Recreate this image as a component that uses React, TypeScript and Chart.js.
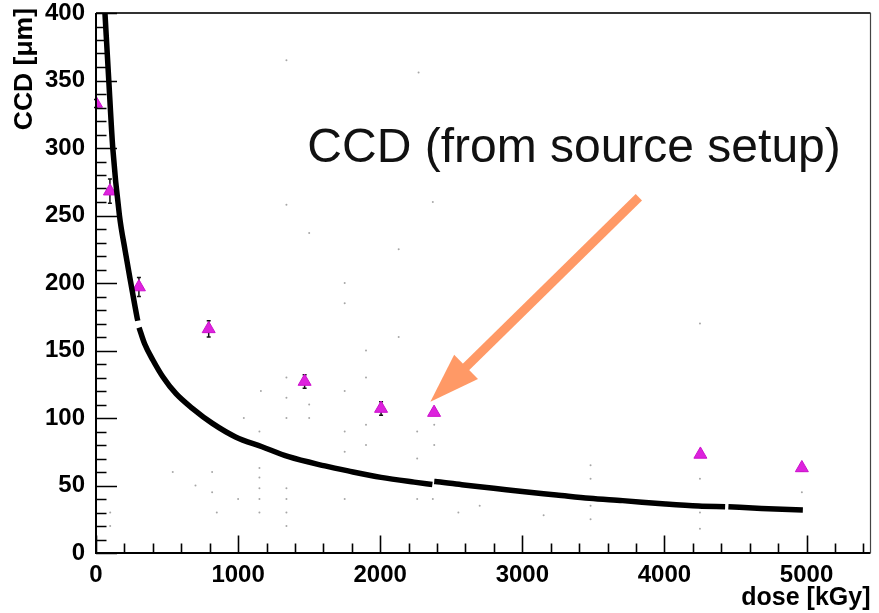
import React, { useEffect, useRef } from "react";
import { Chart, registerables } from "chart.js";

Chart.register(...registerables);

// ---- Data ----
// main black band (separate segments)
const curveDoseA = [63, 90, 118, 165, 205, 245, 288, 294];
const curveCcdA = [400, 350, 300, 250, 224, 200, 175, 172];
const curveDoseB = [303, 342, 400, 470, 563, 680, 819, 982, 1168, 1355, 1611, 1774, 2006, 2239, 2367];
const curveCcdB = [167, 155, 143, 130.6, 118, 107, 96, 86, 78.7, 71.3, 64.5, 60.8, 56, 52.5, 50.8];
const curveDoseC = [2380, 2402, 2589, 2798, 3000, 3240, 3473, 3706, 4008, 4241, 4427];
const curveCcdC = [53, 52.8, 50.4, 48, 45.5, 43, 40.5, 38.8, 36.3, 34.8, 34.3];
const curveDoseD = [4450, 4683, 4974];
const curveCcdD = [34.3, 33, 31.9];

// magenta points (source setup) with error bars
const srcDose = [0, 98, 302, 793, 1468, 2006, 2379, 4253, 4967];
const srcCcd = [333, 268, 197, 166, 127, 107, 104, 73, 63];
const srcErr = [3, 9, 7, 6, 5, 5, 2, 2, 2];

// faint scattered entries
const noiseDose = [1150, 1150, 1150, 1150, 1150, 1150, 1160, 1340, 1340, 1340, 1340, 1340, 1340, 1340, 1340, 1340, 1500, 1500, 1500, 1750, 1750, 1750, 1750, 1750, 1750, 1900, 1900, 1900, 1900, 2130, 2130, 2270, 2260, 2260, 2260, 2370, 2380, 2380, 2370, 3480, 3480, 3480, 3480, 4250, 4250, 4250, 4250, 4967, 850, 700, 540, 100, 100, 817, 817, 1040, 1000, 2550, 2700, 3150];
const noiseCcd = [30, 40, 48, 56, 63, 90, 120, 365, 258, 20, 30, 40, 48, 100, 115, 130, 237, 100, 110, 200, 185, 120, 90, 75, 40, 150, 130, 95, 80, 225, 160, 356, 90, 70, 40, 260, 95, 80, 40, 65, 55, 35, 25, 170, 55, 30, 18, 45, 30, 50, 60, 30, 20, 60, 45, 100, 40, 30, 35, 28];

// tick labels
const xTickLabels = [0, 1000, 2000, 3000, 4000, 5000];
const yTickLabels = [0, 50, 100, 150, 200, 250, 300, 350, 400];

// annotation (data coordinates)
const noteText = "CCD (from source setup)";
const noteAt = { x: 1487, y: 289.5 };
const arrowTail = { x: 3820, y: 263.5 };
const arrowTip = { x: 2353, y: 112 };

const xTitle = "dose [kGy]";
const yTitle = "CCD [\u03bcm]";

const FONT = "'Liberation Sans', Arial, Helvetica, sans-serif";

const toPts = (xs: number[], ys: number[]) => xs.map((x, i) => ({ x, y: ys[i] }));

const rootPlugin = {
  id: "rootFrame",
  beforeDatasetsDraw(chart: any) {
    const { ctx, scales } = chart;
    const xs = scales.x;
    const ys = scales.y;
    ctx.save();
    ctx.strokeStyle = "#111";
    ctx.lineWidth = 1.5;
    srcDose.forEach((d, i) => {
      const px = xs.getPixelForValue(d);
      const top = ys.getPixelForValue(srcCcd[i] + srcErr[i]);
      const bot = ys.getPixelForValue(srcCcd[i] - srcErr[i]);
      ctx.beginPath();
      ctx.moveTo(px, top);
      ctx.lineTo(px, bot);
      ctx.moveTo(px - 2, top);
      ctx.lineTo(px + 2, top);
      ctx.moveTo(px - 2, bot);
      ctx.lineTo(px + 2, bot);
      ctx.stroke();
    });
    ctx.restore();
  },
  afterDraw(chart: any) {
    const { ctx, chartArea: a, scales } = chart;
    const xs = scales.x;
    const ys = scales.y;
    ctx.save();

    // frame
    ctx.strokeStyle = "#000";
    ctx.lineWidth = 2;
    ctx.beginPath();
    ctx.moveTo(a.left, a.top);
    ctx.lineTo(a.left, a.bottom);
    ctx.lineTo(a.right, a.bottom);
    ctx.stroke();
    ctx.strokeStyle = "#333";
    ctx.beginPath();
    ctx.moveTo(a.left, a.top);
    ctx.lineTo(a.right, a.top);
    ctx.stroke();
    ctx.lineWidth = 1.2;
    ctx.strokeStyle = "#444";
    ctx.beginPath();
    ctx.moveTo(a.right, a.top);
    ctx.lineTo(a.right, a.bottom);
    ctx.stroke();

    // inner ticks
    ctx.strokeStyle = "#000";
    ctx.lineWidth = 1.6;
    ctx.beginPath();
    for (let v = ys.min; v <= ys.max; v += 10) {
      const py = Math.round(ys.getPixelForValue(v)) + 0.5;
      const len = v % 50 === 0 ? 21 : 10.5;
      ctx.moveTo(a.left, py);
      ctx.lineTo(a.left + len, py);
    }
    for (let v = xs.min; v <= xs.max; v += 200) {
      const px = Math.round(xs.getPixelForValue(v)) + 0.5;
      const len = v % 1000 === 0 ? 17.5 : 9.5;
      ctx.moveTo(px, a.bottom);
      ctx.lineTo(px, a.bottom - len);
    }
    ctx.stroke();

    // axis titles
    ctx.fillStyle = "#000";
    ctx.font = `bold 25px ${FONT}`;
    ctx.textAlign = "right";
    ctx.textBaseline = "alphabetic";
    ctx.fillText(xTitle, a.right, 605);
    ctx.save();
    ctx.font = `bold 26.5px ${FONT}`;
    ctx.translate(32, 8);
    ctx.rotate(-Math.PI / 2);
    ctx.textAlign = "right";
    ctx.fillText(yTitle, 0, 0);
    ctx.restore();

    // annotation text
    ctx.font = `48px ${FONT}`;
    ctx.textAlign = "left";
    ctx.fillStyle = "#111";
    ctx.fillText(noteText, xs.getPixelForValue(noteAt.x), ys.getPixelForValue(noteAt.y));

    // arrow
    const tx = xs.getPixelForValue(arrowTail.x);
    const ty = ys.getPixelForValue(arrowTail.y);
    const hx = xs.getPixelForValue(arrowTip.x);
    const hy = ys.getPixelForValue(arrowTip.y);
    const dx = hx - tx;
    const dy = hy - ty;
    const L = Math.hypot(dx, dy);
    const ux = dx / L;
    const uy = dy / L;
    const headLen = 50;
    const headHalf = 17;
    const bx = hx - ux * headLen;
    const by = hy - uy * headLen;
    ctx.strokeStyle = "#FF9966";
    ctx.fillStyle = "#FF9966";
    ctx.lineWidth = 9;
    ctx.lineCap = "butt";
    ctx.beginPath();
    ctx.moveTo(tx, ty);
    ctx.lineTo(bx + ux * 2, by + uy * 2);
    ctx.stroke();
    ctx.beginPath();
    ctx.moveTo(hx, hy);
    ctx.lineTo(bx - uy * headHalf, by + ux * headHalf);
    ctx.lineTo(bx + uy * headHalf, by - ux * headHalf);
    ctx.closePath();
    ctx.fill();

    ctx.restore();
  },
};

export default function App() {
  const ref = useRef<HTMLCanvasElement | null>(null);

  useEffect(() => {
    document.body.style.margin = "0";
    const canvas = ref.current;
    if (!canvas) return;
    const lineDs = (xs: number[], ys: number[]) => ({
      type: "line" as const,
      data: toPts(xs, ys),
      borderColor: "#000",
      borderWidth: 5.5,
      pointRadius: 0,
      showLine: true,
      cubicInterpolationMode: "monotone" as const,
      fill: false,
    });
    const chart = new Chart(canvas, {
      type: "scatter",
      data: {
        datasets: [
          {
            data: toPts(noiseDose, noiseCcd),
            backgroundColor: "rgba(0,0,0,0.35)",
            borderColor: "rgba(0,0,0,0)",
            pointRadius: 1,
          } as any,
          lineDs(curveDoseA, curveCcdA),
          lineDs(curveDoseB, curveCcdB),
          lineDs(curveDoseC, curveCcdC),
          lineDs(curveDoseD, curveCcdD),
          {
            data: toPts(srcDose, srcCcd),
            pointStyle: "triangle",
            pointRadius: 7.5,
            backgroundColor: "#dd22dd",
            borderColor: "#cc11cc",
            borderWidth: 1,
          } as any,
        ],
      },
      options: {
        responsive: false,
        animation: false,
        devicePixelRatio: 1,
        layout: { padding: { top: 13, right: 3, left: 0, bottom: 0 } },
        plugins: { legend: { display: false }, tooltip: { enabled: false } },
        scales: {
          x: {
            type: "linear",
            min: 0,
            max: 5450,
            afterBuildTicks: (s: any) => {
              s.ticks = xTickLabels.map((v) => ({ value: v }));
            },
            afterFit: (s: any) => {
              s.height = 60;
              s.paddingLeft = 0;
              s.paddingRight = 0;
            },
            grid: { display: false, drawTicks: false },
            border: { display: false },
            ticks: {
              color: "#000",
              font: { family: FONT, size: 24, weight: "bold", lineHeight: 1 },
              padding: 10,
              maxRotation: 0,
              autoSkip: false,
              callback: (v: any) => String(v),
            },
          },
          y: {
            type: "linear",
            min: 0,
            max: 400,
            afterBuildTicks: (s: any) => {
              s.ticks = yTickLabels.map((v) => ({ value: v }));
            },
            afterFit: (s: any) => {
              s.width = 96;
              s.paddingTop = 0;
              s.paddingBottom = 0;
            },
            grid: { display: false, drawTicks: false },
            border: { display: false },
            ticks: {
              color: "#000",
              font: { family: FONT, size: 24, weight: "bold", lineHeight: 1 },
              padding: 11,
              autoSkip: false,
              callback: (v: any) => String(v),
            },
          },
        },
      },
      plugins: [rootPlugin],
    });
    return () => chart.destroy();
  }, []);

  return (
    <div style={{ width: 879, height: 613, background: "#fff" }}>
      <canvas ref={ref} width={879} height={613} style={{ display: "block" }} />
    </div>
  );
}
